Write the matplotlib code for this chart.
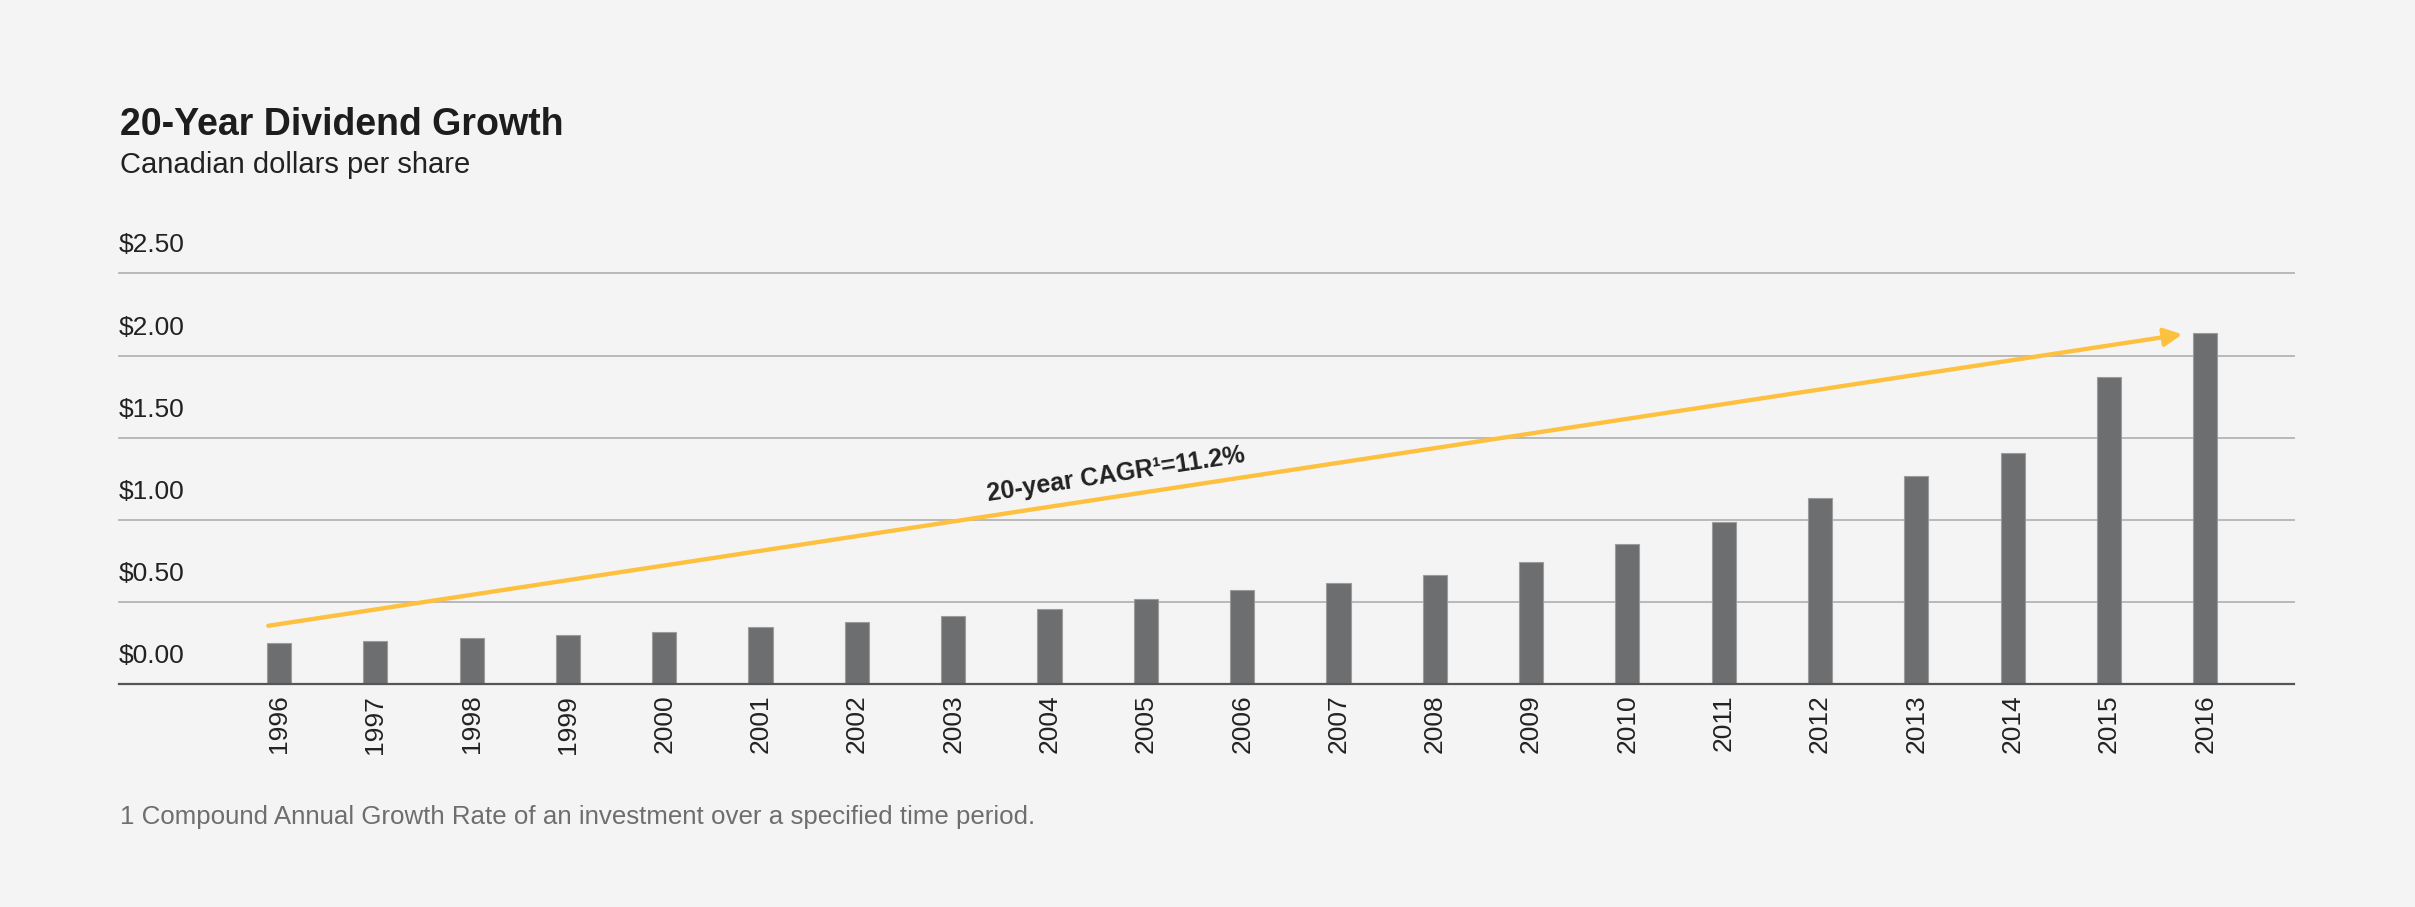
import matplotlib
matplotlib.use("Agg")
import matplotlib.pyplot as plt

plt.rcParams['font.family'] = ['Liberation Sans', 'DejaVu Sans']

years = [str(y) for y in range(1996, 2017)]
dividends = [0.25, 0.263, 0.28, 0.298, 0.316, 0.349, 0.379, 0.415, 0.456, 0.521,
             0.576, 0.616, 0.663, 0.742, 0.853, 0.985, 1.135, 1.265, 1.407, 1.871, 2.135]
y_ticks = [0.0, 0.5, 1.0, 1.5, 2.0, 2.5]
y_tick_labels = ["$0.00", "$0.50", "$1.00", "$1.50", "$2.00", "$2.50"]

# trend arrow (annotation, in bar-index / dollar units)
arrow_start = (-0.11, 0.356)
arrow_end = (19.76, 2.129)
cagr_label = "20-year CAGR\u00b9=11.2%"

bg = "#f4f4f4"
bar_color = "#6d6e70"
arrow_color = "#fdc03f"

fig = plt.figure(figsize=(24.15, 9.07), dpi=100, facecolor=bg)
ax = fig.add_axes([0.04928, 0.24553, 0.90062, 0.45314], facecolor=bg)

x = list(range(len(years)))
ax.bar(x, dividends, width=0.25, color=bar_color, edgecolor="#9c9c9c", linewidth=0.8, zorder=3)

ax.set_xlim(-1.66, 20.92)
ax.set_ylim(0, 2.5)

for v in y_ticks[1:]:
    ax.axhline(v, color="#b4b4b4", lw=1.3, zorder=1, clip_on=False)
ax.axhline(0, color="#555555", lw=1.6, zorder=4, clip_on=False)

for v, lab in zip(y_ticks, y_tick_labels):
    ax.annotate(lab, xy=(0, v), xycoords=("axes fraction", "data"),
                xytext=(0, 15), textcoords="offset points",
                ha="left", va="baseline", fontsize=19, color="#222222")

for s in ax.spines.values():
    s.set_visible(False)
ax.set_yticks([])
ax.set_xticks(x)
ax.set_xticklabels(years, rotation=90, fontsize=19, color="#222222")
ax.tick_params(axis="x", length=0, pad=7.5)

ax.annotate("", xy=arrow_end, xytext=arrow_start,
            arrowprops=dict(arrowstyle="-|>,head_length=0.6,head_width=0.3",
                            mutation_scale=18, lw=3.1, color=arrow_color,
                            shrinkA=0, shrinkB=0),
            zorder=5)
ax.text(8.69, 1.279, cagr_label, rotation=8.66, rotation_mode="anchor",
        ha="center", va="center", fontsize=18, fontweight="bold", color="#222222", zorder=6)

fig.text(0.04969, 0.85116, "20-Year Dividend Growth", fontsize=27, fontweight="bold",
         color="#1d1d1d", va="baseline", ha="left")
fig.text(0.04969, 0.80926, "Canadian dollars per share", fontsize=21,
         color="#222222", va="baseline", ha="left")
fig.text(0.04969, 0.09151, "1 Compound Annual Growth Rate of an investment over a specified time period.",
         fontsize=18.6, color="#6e6e6e", va="baseline", ha="left")

fig.savefig("out.png", dpi=100, facecolor=bg)
